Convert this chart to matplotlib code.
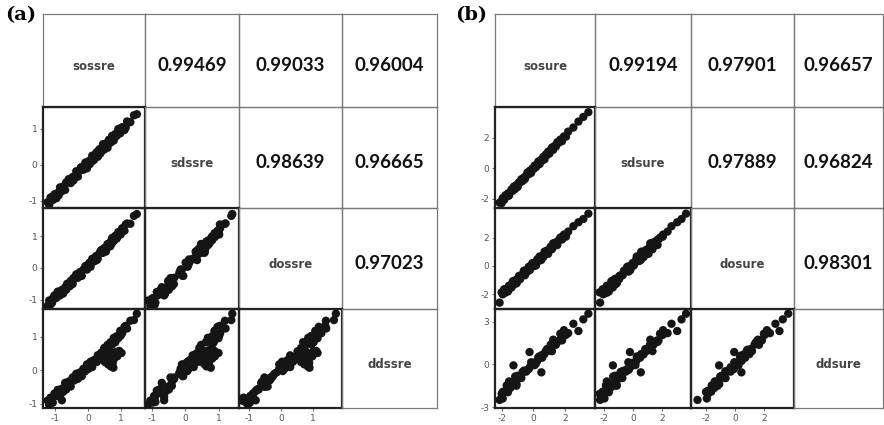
import matplotlib
matplotlib.use("Agg")
import matplotlib.pyplot as plt

plt.rcParams["axes.unicode_minus"] = False

# ---------------- data : panel (a) ----------------
a_names = ["sossre", "sdssre", "dossre", "ddssre"]
a_corr = {(0, 1): "0.99469", (0, 2): "0.99033", (0, 3): "0.96004",
          (1, 2): "0.98639", (1, 3): "0.96665", (2, 3): "0.97023"}
a_sossre = [-1.24, -1.19, -1.15, -1.08, -1.03, -0.97, -0.93, -0.86, -0.81, -0.76,
            -0.70, -0.64, -0.59, -0.53, -0.47, -0.42, -0.36, -0.31, -0.25, -0.19,
            -0.14, -0.08, -0.03, 0.02, 0.08, 0.13, 0.19, 0.25, 0.30, 0.35,
            0.41, 0.46, 0.50, 0.55, 0.60, 0.64, 0.69, 0.74, 0.79, 0.84,
            0.88, 0.93, 0.99, 1.05, 1.12, 1.20, 1.30, 1.41, 1.50,
            0.45, 0.52, 0.58, 0.62, 0.66, 0.70, 0.73, 0.76, 0.80, 0.85,
            0.90, 0.96, 1.03, 0.78, 0.68, 0.55,
            -1.10, -0.90, -0.67, -0.45, -0.22, 0.05, 0.27, 0.38, 1.00, 1.16,
            0.15, -0.56, -0.80]
a_sdssre = [-1.04, -1.11, -0.91, -0.98, -0.82, -0.93, -0.78, -0.63, -0.74, -0.60,
            -0.70, -0.50, -0.40, -0.51, -0.34, -0.38, -0.18, -0.33, -0.17, -0.06,
            -0.14, 0.06, -0.10, 0.10, 0.07, 0.25, 0.14, 0.32, 0.22, 0.43,
            0.37, 0.57, 0.42, 0.58, 0.47, 0.69, 0.61, 0.80, 0.67, 0.85,
            0.80, 0.99, 0.87, 1.04, 0.96, 1.20, 1.18, 1.37, 1.40,
            0.47, 0.48, 0.60, 0.58, 0.67, 0.63, 0.72, 0.70, 0.80, 0.79,
            0.88, 0.87, 0.99, 0.76, 0.67, 0.53,
            -0.89, -0.85, -0.49, -0.44, -0.08, 0.01, 0.35, 0.31, 1.01, 1.03,
            0.11, -0.40, -0.63]
a_dossre = [-1.20, -1.03, -1.16, -0.96, -0.87, -0.95, -0.75, -0.87, -0.70, -0.81,
            -0.61, -0.50, -0.58, -0.41, -0.51, -0.35, -0.20, -0.31, -0.13, -0.25,
            -0.05, 0.06, -0.05, 0.12, 0.04, 0.29, 0.21, 0.38, 0.29, 0.46,
            0.57, 0.48, 0.63, 0.52, 0.76, 0.75, 0.69, 0.95, 0.85, 1.02,
            0.93, 1.14, 1.07, 1.26, 1.18, 1.41, 1.40, 1.65, 1.71,
            0.50, 0.63, 0.62, 0.73, 0.72, 0.84, 0.78, 0.88, 0.88, 0.99,
            0.98, 1.10, 1.14, 0.89, 0.77, 0.64,
            -1.10, -0.76, -0.69, -0.32, -0.25, 0.17, 0.25, 0.52, 1.06, 1.38,
            0.27, -0.58, -0.78]
a_ddssre = [-0.90, -1.02, -0.81, -0.96, -0.69, -0.76, -0.58, -0.79, -0.55, -0.64,
            -0.37, -0.49, -0.33, -0.48, -0.21, -0.30, -0.10, -0.25, -0.06, -0.17,
            0.05, -0.02, 0.18, 0.05, 0.26, 0.10, 0.31, 0.26, 0.45, 0.33,
            0.53, 0.43, 0.67, 0.57, 0.76, 0.60, 0.84, 0.77, 0.97, 0.84,
            1.02, 0.96, 1.18, 1.11, 1.30, 1.25, 1.48, 1.50, 1.69,
            0.35, 0.25, 0.40, 0.18, 0.30, 0.12, 0.45, 0.22, 0.35, 0.55,
            0.42, 0.58, 0.52, 0.08, 0.55, 0.52,
            -0.94, -0.60, -0.57, -0.21, -0.17, 0.21, 0.25, 0.49, 1.03, 1.33,
            0.28, -0.46, -0.89]
a_ticks = [-1, 0, 1]

# ---------------- data : panel (b) ----------------
b_names = ["sosure", "sdsure", "dosure", "ddsure"]
b_corr = {(0, 1): "0.99194", (0, 2): "0.97901", (0, 3): "0.96657",
          (1, 2): "0.97889", (1, 3): "0.96824", (2, 3): "0.98301"}
b_sosure = [-2.15, -2.02, -1.95, -1.86, -1.78, -1.70, -1.62, -1.55, -1.47, -1.39,
            -1.31, -1.24, -1.16, -1.08, -1.00, -0.92, -0.85, -0.77, -0.69, -0.61,
            -0.54, -0.46, -0.38, -0.30, -0.23, -0.15, -0.07, 0.01, 0.08, 0.16,
            0.24, 0.31, 0.39, 0.47, 0.55, 0.62, 0.70, 0.78, 0.86, 0.93,
            1.01, 1.09, 1.17, 1.25, 1.33, 1.42, 1.51, 1.60, 1.70, 1.81,
            1.93, 2.06, 2.20, 2.53, 2.85, 3.16, 3.48,
            -0.25, -1.27, 0.50, -1.08, -1.95]
b_sdsure = [-2.25, -2.28, -2.04, -2.07, -1.77, -1.85, -1.65, -1.79, -1.56, -1.38,
            -1.48, -1.20, -1.35, -1.12, -1.22, -0.92, -0.94, -0.72, -0.84, -0.61,
            -0.70, -0.48, -0.28, -0.39, -0.17, -0.31, -0.02, -0.05, 0.18, 0.07,
            0.24, 0.44, 0.27, 0.53, 0.50, 0.74, 0.58, 0.89, 0.86, 1.08,
            0.96, 1.18, 1.35, 1.20, 1.45, 1.42, 1.70, 1.66, 1.87, 1.77,
            2.08, 2.06, 2.39, 2.66, 3.05, 3.35, 3.66,
            -0.20, -1.37, 0.55, -1.10, -1.95]
b_dosure = [-2.60, -1.87, -2.01, -1.65, -1.89, -1.61, -1.81, -1.40, -1.43, -1.53,
            -1.09, -1.30, -1.02, -1.24, -0.91, -0.71, -0.94, -0.65, -0.67, -0.34,
            -0.66, -0.30, -0.40, -0.07, -0.29, -0.04, 0.20, -0.02, 0.25, 0.03,
            0.47, 0.35, 0.67, 0.41, 0.71, 0.62, 1.01, 0.82, 1.09, 0.86,
            1.16, 1.36, 1.18, 1.60, 1.42, 1.67, 1.48, 1.82, 2.01, 1.87,
            2.22, 2.07, 2.43, 2.81, 3.09, 3.32, 3.70,
            -0.05, -1.10, 0.45, -1.20, -1.95]
b_ddsure = [-2.50, -2.07, -1.94, -1.92, -1.86, -1.48, -1.96, -1.20, -1.66, -1.53,
            -1.38, -1.21, -0.85, -1.37, -0.80, -0.96, -0.89, -0.96, -0.53, -0.44,
            -0.48, -0.51, -0.38, -0.33, -0.19, 0.15, 0.03, 0.11, -0.05, 0.07,
            0.25, 0.51, 0.56, 0.62, 0.47, 0.70, 0.73, 0.94, 1.08, 1.03,
            0.97, 1.39, 0.93, 1.74, 1.48, 1.38, 1.58, 1.68, 2.16, 1.69,
            2.41, 2.08, 2.20, 2.86, 2.35, 3.17, 3.57,
            0.87, -0.07, -0.56, -1.50, -2.40]
b_ticks = [[-2, 0, 2], [-2, 0, 2], [-2, 0, 2], [-3, 0, 3]]

# ---------------- layout (pixels) ----------------
W, H = 884, 425
fig = plt.figure(figsize=(W / 100, H / 100), dpi=100)
fig.patch.set_facecolor("white")

GRID = "#7a7a7a"
TICKC = "#555555"


def rect(x0, x1, y0, y1):
    return [x0 / W, 1 - y1 / H, (x1 - x0) / W, (y1 - y0) / H]


def draw_matrix(data, names, corr, lims, ticks, xs, ys):
    n = len(names)
    for r in range(n):
        for c in range(n):
            ax = fig.add_axes(rect(xs[c], xs[c + 1], ys[r], ys[r + 1]))
            ax.set_facecolor("none")
            if r > c:
                ax.scatter(data[c], data[r], s=36, c="#151515",
                           edgecolors="none", zorder=3)
                ax.set_xlim(*lims[c])
                ax.set_ylim(*lims[r])
                for sp in ax.spines.values():
                    sp.set_color("#222222")
                    sp.set_linewidth(1.6)
                ax.set_xticks(ticks[c])
                ax.set_yticks(ticks[r])
                ax.tick_params(length=2.5, width=0.6, color=TICKC,
                               labelsize=6.5, labelcolor=TICKC, pad=1.5)
                if r != n - 1:
                    ax.tick_params(axis="x", labelbottom=False, length=0)
                if c != 0:
                    ax.tick_params(axis="y", labelleft=False, length=0)
            else:
                ax.set_xticks([])
                ax.set_yticks([])
                for sp in ax.spines.values():
                    sp.set_color(GRID)
                    sp.set_linewidth(0.9)
                if r == c:
                    ax.text(0.5, 0.44, names[r], transform=ax.transAxes,
                            ha="center", va="center", fontsize=8.5,
                            fontweight="bold", color="#444444",
                            family="DejaVu Sans")
                else:
                    ax.text(0.5, 0.45, corr[(r, c)], transform=ax.transAxes,
                            ha="center", va="center", fontsize=13.5,
                            fontweight="bold", color="#111111",
                            family=["Lato", "DejaVu Sans"])


a_data = [a_sossre, a_sdssre, a_dossre, a_ddssre]
a_lims = [(-1.38, 1.75), (-1.2, 1.6), (-1.3, 1.9), (-1.12, 1.83)]
draw_matrix(a_data, a_names, a_corr, a_lims, [a_ticks] * 4,
            [43, 145, 239, 342, 437], [14, 107, 208, 309, 408])

b_data = [b_sosure, b_sdsure, b_dosure, b_ddsure]
b_lims = [(-2.44, 3.9), (-2.6, 4.0), (-3.05, 4.1), (-3.07, 3.9)]
draw_matrix(b_data, b_names, b_corr, b_lims, b_ticks,
            [495, 595, 691, 794, 883], [14, 107, 208, 309, 408])

fig.text(5 / W, 1 - 15 / H, "(a)", ha="left", va="center", fontsize=14,
         fontweight="bold", family="DejaVu Serif")
fig.text(455 / W, 1 - 15 / H, "(b)", ha="left", va="center", fontsize=14,
         fontweight="bold", family="DejaVu Serif")

fig.savefig("out.png", dpi=100, facecolor="white")
